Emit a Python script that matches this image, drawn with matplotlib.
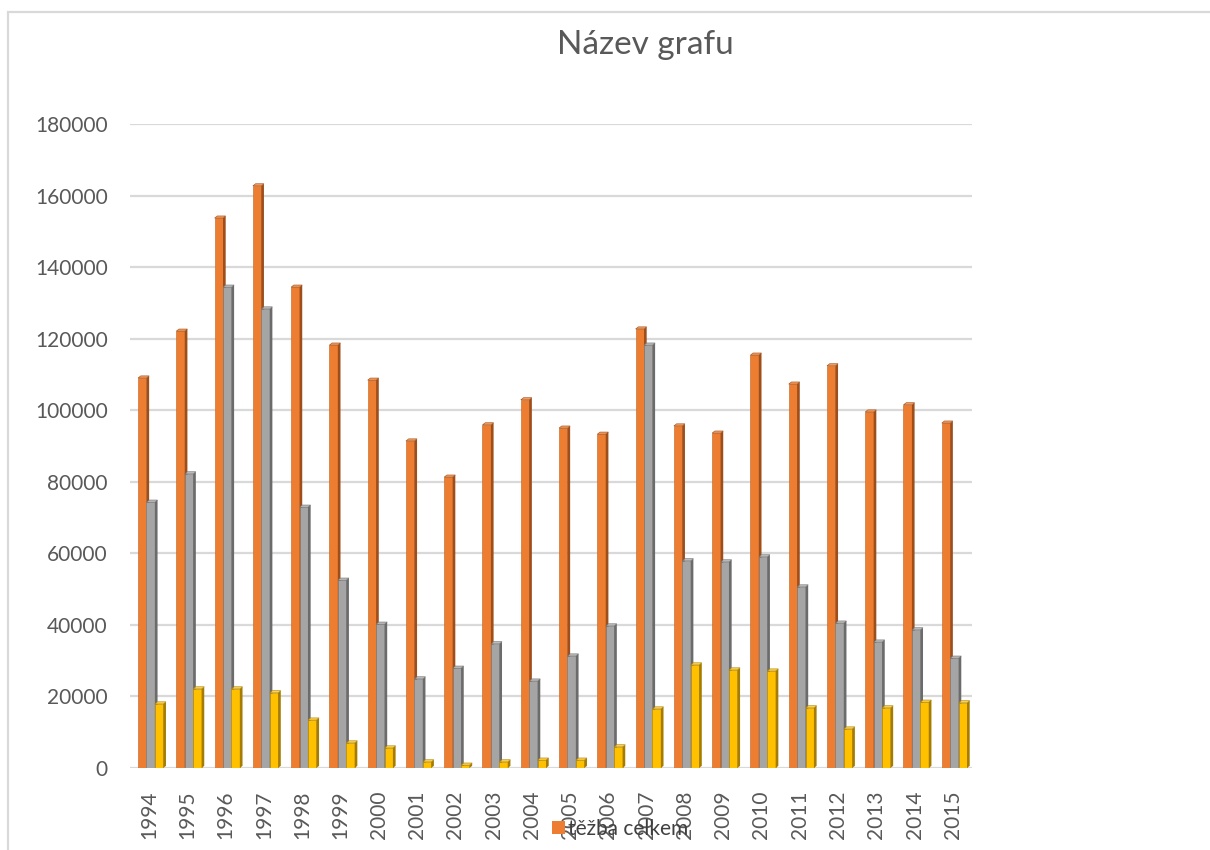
import matplotlib
matplotlib.use("Agg")
import matplotlib.pyplot as plt
from matplotlib.patches import Rectangle, Polygon
import numpy as np

plt.rcParams['font.family'] = ['Lato', 'DejaVu Sans']

years = ['1994', '1995', '1996', '1997', '1998', '1999', '2000', '2001', '2002', '2003', '2004',
         '2005', '2006', '2007', '2008', '2009', '2010', '2011', '2012', '2013', '2014', '2015']
tezba_celkem = [109000, 122100, 153700, 162700, 134400, 118200, 108400, 91400, 81300, 95900, 102900,
                95000, 93300, 122700, 95600, 93600, 115400, 107300, 112400, 99500, 101500, 96400]
serie2 = [74300, 82200, 134400, 128300, 72900, 52500, 40200, 24900, 27900, 34700, 24300,
          31300, 39700, 118200, 57900, 57600, 59000, 50600, 40500, 35200, 38600, 30700]
serie3 = [17900, 22100, 22100, 21000, 13400, 7000, 5600, 1700, 800, 1700, 2200,
          2200, 5900, 16500, 28800, 27400, 27100, 16800, 10900, 16800, 18400, 18200]

series = [tezba_celkem, serie2, serie3]
front_colors = ['#ED7D31', '#A5A5A5', '#FFC000']
side_colors = ['#9E4E1A', '#6B6B6B', '#A67C00']
top_colors = ['#F29A5C', '#BDBDBD', '#FFD24D']
edge_colors = ['#C0601E', '#7F7F7F', '#C09000']
offsets = [-0.29, -0.07, 0.15]
w = 0.22
dx = 0.07
dy = 600

fig = plt.figure(figsize=(12.1, 8.5), dpi=100)
ax = fig.add_axes([130/1210, 1-768/850, (972-130)/1210, (768-124)/850])

x = np.arange(len(years))
for s, vals in enumerate(series):
    lefts = x + offsets[s]
    ax.bar(lefts, vals, width=w, align='edge', color=front_colors[s],
           edgecolor=edge_colors[s], linewidth=0.4, zorder=3 + s)
    for L, v in zip(lefts, vals):
        side = Polygon([(L + w, 0), (L + w + dx, dy), (L + w + dx, v + dy), (L + w, v)],
                       closed=True, facecolor=side_colors[s], edgecolor='none', zorder=3 + s)
        top = Polygon([(L, v), (L + dx, v + dy), (L + w + dx, v + dy), (L + w, v)],
                      closed=True, facecolor=top_colors[s], edgecolor=side_colors[s],
                      linewidth=0.4, zorder=3 + s)
        ax.add_patch(side)
        ax.add_patch(top)

ax.set_xlim(-0.5, len(years) - 0.5)
ax.set_ylim(0, 180000)
ax.set_yticks(np.arange(0, 180001, 20000))
ax.set_xticks(x)
ax.set_xticklabels(years, rotation=90)
ax.tick_params(axis='both', length=0, colors='#595959', labelsize=15)
ax.tick_params(axis='y', pad=16)
ax.tick_params(axis='x', pad=16)
for sp in ax.spines.values():
    sp.set_visible(False)
ax.grid(axis='y', color='#D9D9D9', linewidth=1.6, zorder=0)
ax.set_axisbelow(True)

fig.text(645/1210, 1-45/850, 'Název grafu', ha='center', va='center',
         fontsize=24, color='#595959')

handle = Rectangle((0, 0), 1, 1, facecolor='#ED7D31', edgecolor='none')
fig.legend([handle], ['těžba celkem'], loc='center', bbox_to_anchor=(620/1210, 1-829/850),
           frameon=False, fontsize=15, handlelength=0.6, handleheight=0.6,
           handletextpad=0.15, labelcolor='#404040')

fig.add_artist(Rectangle((8/1210, -0.1), 1.2, (850-12)/850 + 0.1, transform=fig.transFigure,
                         fill=False, edgecolor='#D9D9D9', linewidth=1.6))

fig.savefig('out.png', dpi=100, facecolor='white')
